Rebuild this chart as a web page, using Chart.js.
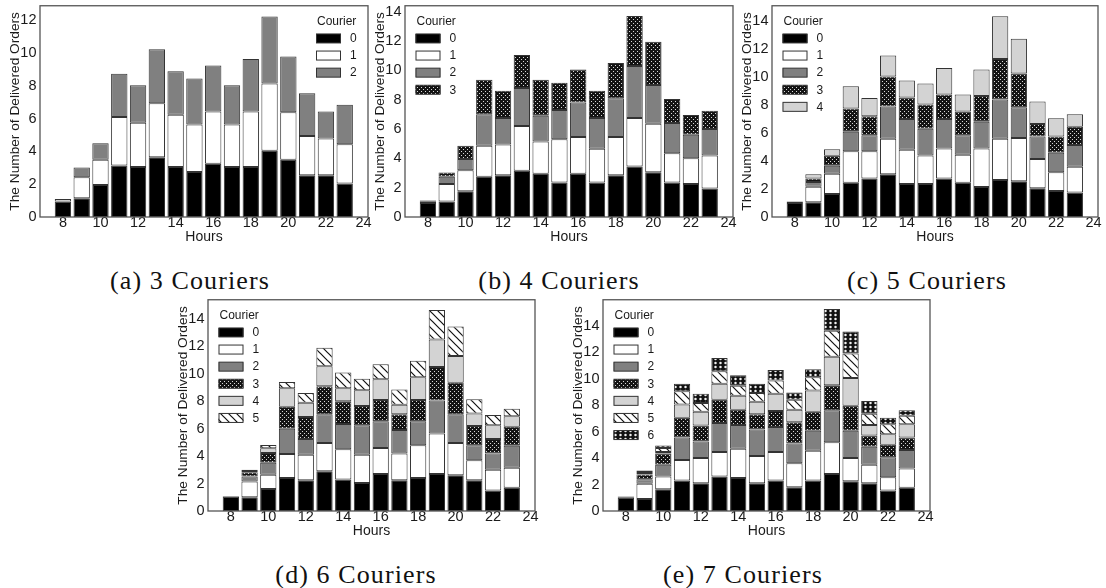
<!DOCTYPE html>
<html><head><meta charset="utf-8">
<script src="https://cdn.jsdelivr.net/npm/chart.js@4"></script>
<style>
html,body{margin:0;padding:0;background:#fff;}
#wrap{position:relative;width:1106px;height:588px;overflow:hidden;background:#fff;}
#wrap canvas{position:absolute;}
.cap{position:absolute;font-family:'Liberation Serif',serif;font-size:26px;letter-spacing:1.1px;line-height:26px;white-space:nowrap;transform:translateX(-50%);color:#111;}
</style></head><body><div id="wrap"></div>
<script>
// ---------- data ----------
const hours = [8,9,10,11,12,13,14,15,16,17,18,19,20,21,22,23];
const xTickValues = [8,10,12,14,16,18,20,22,24];
const yTicksA = [0,2,4,6,8,10,12];
const yTicksB = [0,2,4,6,8,10,12,14];
const courierLabels = ['0','1','2','3','4','5','6'];
const captions = ['(a) 3 Couriers','(b) 4 Couriers','(c) 5 Couriers','(d) 6 Couriers','(e) 7 Couriers'];
const yTitle = 'The Number of Delivered Orders';
const xTitle = 'Hours';
const legendTitle = 'Courier';

// (a) 3 couriers
const A0 = [0.95,1.15,1.95,3.15,3.05,3.65,3.05,2.75,3.25,3.05,3.05,4.05,3.5,2.55,2.55,2.05];
const A1 = [0.15,1.28,1.55,2.95,2.7,3.3,3.2,2.9,3.2,2.6,3.4,4.1,2.9,2.4,2.25,2.4];
const A2 = [0.0,0.6,1.0,2.65,2.3,3.3,2.65,2.8,2.8,2.4,3.2,4.1,3.4,2.6,1.65,2.4];
// (b) 4 couriers
const B0 = [0.95,1.05,1.75,2.75,2.85,3.15,2.95,2.35,2.95,2.35,2.85,3.45,3.05,2.35,2.25,1.95];
const B1 = [0.12,1.2,1.43,2.1,2.1,3.05,2.2,2.95,2.5,2.3,2.6,3.3,3.3,2.0,1.75,2.25];
const B2 = [0.03,0.5,0.77,2.15,1.8,2.6,1.75,2.0,2.35,2.1,2.65,3.55,2.65,2.05,1.6,1.8];
const B3 = [0.05,0.28,0.9,2.35,1.85,2.25,2.45,1.85,2.25,1.85,2.4,3.4,2.95,1.65,1.35,1.25];
// (c) 5 couriers
const C0 = [1.0,1.05,1.65,2.45,2.75,3.05,2.35,2.35,2.75,2.45,2.15,2.65,2.55,2.05,1.85,1.75];
const C1 = [0.1,1.12,1.45,2.25,1.95,2.55,2.45,2.05,2.15,2.0,2.75,2.95,3.1,2.1,1.35,1.85];
const C2 = [0.0,0.33,0.57,1.4,1.15,2.3,2.2,1.9,2.1,1.4,1.9,2.8,2.2,1.6,1.4,1.55];
const C3 = [0.0,0.25,0.7,1.65,1.35,2.15,1.55,1.75,1.75,1.7,1.85,2.9,2.4,0.9,1.15,1.3];
const C4 = [0.0,0.3,0.47,1.6,1.3,1.5,1.2,1.5,1.9,1.2,1.9,3.05,2.5,1.6,1.3,0.9];
// (d) 6 couriers
const D0 = [1.05,1.0,1.6,2.4,2.25,2.9,2.3,2.05,2.7,2.25,2.4,2.7,2.6,2.25,1.5,1.7];
const D1 = [0.05,1.15,1.05,1.75,1.85,2.05,2.2,2.05,1.9,1.95,2.4,2.95,2.35,1.45,1.5,1.45];
const D2 = [0.0,0.37,0.87,1.85,1.15,2.1,1.85,2.15,1.95,1.7,1.75,2.4,2.1,1.1,1.2,1.6];
const D3 = [0.0,0.3,0.7,1.6,1.6,2.05,1.65,1.4,1.55,1.15,1.55,2.45,2.3,1.4,1.05,1.4];
const D4 = [0.0,0.1,0.35,1.35,1.05,1.45,0.95,1.15,1.5,0.7,1.65,2.0,1.95,0.9,1.0,0.75];
const D5 = [0.0,0.08,0.25,0.45,0.7,1.35,1.15,0.85,1.1,1.1,1.2,2.15,2.15,1.05,0.75,0.55];
// (e) 7 couriers
const E0 = [1.0,0.9,1.65,2.3,2.1,2.6,2.5,2.1,2.3,1.8,2.3,2.8,2.25,2.1,1.55,1.75];
const E1 = [0.0,1.15,0.95,1.55,1.9,1.85,2.2,2.05,2.15,1.8,2.25,2.4,1.75,1.4,1.0,1.45];
const E2 = [0.0,0.35,0.9,1.7,1.25,2.2,1.8,2.0,1.9,1.5,1.5,2.4,2.05,1.35,1.5,1.4];
const E3 = [0.1,0.35,0.85,1.5,1.2,1.75,1.15,1.15,1.2,1.6,1.45,1.9,1.9,0.85,0.95,0.95];
const E4 = [0.0,0.12,0.1,1.0,1.05,1.2,1.05,0.95,1.3,0.95,1.6,2.15,2.1,0.8,0.8,1.0];
const E5 = [0.0,0.07,0.3,1.0,0.65,0.95,0.75,0.65,1.0,0.75,1.0,1.95,1.85,0.85,0.75,0.65];
const E6 = [0.0,0.12,0.2,0.55,0.7,1.0,0.8,0.7,0.8,0.55,0.6,1.65,1.65,0.95,0.5,0.4];

// ---------- styling ----------
const FONT = "'Liberation Sans', Arial, sans-serif";
const TXT = '#1a1a1a';
function makePattern(kind){
  const c = document.createElement('canvas');
  const g = c.getContext('2d');
  if (kind === 'dots') {
    c.width = 4; c.height = 4;
    g.fillStyle = '#141414'; g.fillRect(0,0,4,4);
    g.fillStyle = '#d8d8d8'; g.fillRect(0,0,1,1); g.fillRect(2,2,1,1);
  } else if (kind === 'hatch') {
    c.width = 8; c.height = 8;
    g.fillStyle = '#fff'; g.fillRect(0,0,8,8);
    g.strokeStyle = '#111'; g.lineWidth = 1.2;
    g.beginPath();
    g.moveTo(-2,-2); g.lineTo(10,10);
    g.moveTo(-2,6); g.lineTo(2,10);
    g.moveTo(6,-2); g.lineTo(10,2);
    g.stroke();
  } else {
    c.width = 5; c.height = 4;
    g.fillStyle = '#111'; g.fillRect(0,0,5,4);
    g.fillStyle = '#f2f2f2'; g.beginPath(); g.arc(2.5,2,1.25,0,Math.PI*2); g.fill();
  }
  return g.createPattern(c,'repeat');
}
const fills = ['#000000','#ffffff','#808080',makePattern('dots'),'#d3d3d3',makePattern('hatch'),makePattern('circles')];

const panels = [
  {series:[A0,A1,A2], yTicks:yTicksA, ymax:12.9, plotLeft:40, plotTop:5, plotW:328, plotH:212, legendRight:true, capX:190, capBase:290},
  {series:[B0,B1,B2,B3], yTicks:yTicksB, ymax:14.4, plotLeft:405, plotTop:5, plotW:328, plotH:212, legendRight:false, capX:559, capBase:290},
  {series:[C0,C1,C2,C3,C4], yTicks:yTicksB, ymax:15.1, plotLeft:772, plotTop:5, plotW:326, plotH:212, legendRight:false, capX:927, capBase:290},
  {series:[D0,D1,D2,D3,D4,D5], yTicks:yTicksB, ymax:15.4, plotLeft:208, plotTop:299, plotW:327, plotH:212, legendRight:false, capX:356, capBase:584},
  {series:[E0,E1,E2,E3,E4,E5,E6], yTicks:yTicksB, ymax:15.95, plotLeft:603, plotTop:299, plotW:327, plotH:212, legendRight:false, capX:743, capBase:584}
];

const framePlugin = {
  id:'frame',
  afterDatasetsDraw(chart){
    const {ctx, chartArea:a} = chart;
    ctx.save();
    ctx.strokeStyle = '#555'; ctx.lineWidth = 1.3;
    ctx.strokeRect(a.left, a.top, a.right-a.left, a.bottom-a.top);
    ctx.restore();
  }
};
function legendPlugin(p){
  return {
    id:'courierLegend',
    afterDraw(chart){
      const {ctx, chartArea:a} = chart;
      const bx = p.legendRight ? a.right - 52 : a.left + 10.5;
      ctx.save();
      ctx.font = '12px ' + FONT;
      ctx.fillStyle = TXT;
      ctx.textBaseline = 'middle';
      ctx.textAlign = 'left';
      ctx.fillText(legendTitle, bx + 1, a.top + 16);
      chart.data.datasets.forEach((ds, i) => {
        const cy = a.top + 32.7 + i * 17.1;
        ctx.fillStyle = ds.backgroundColor;
        ctx.fillRect(bx, cy - 4.5, 25, 9);
        ctx.strokeStyle = '#333'; ctx.lineWidth = 1;
        ctx.strokeRect(bx + 0.5, cy - 4.5, 24, 9);
        ctx.fillStyle = TXT;
        ctx.fillText(ds.label, bx + 34, cy + 0.5);
      });
      ctx.restore();
    }
  };
}

const wrap = document.getElementById('wrap');
const YW = 40, PT = 10, PR = 14, XH = 34;
panels.forEach((p, idx) => {
  const cv = document.createElement('canvas');
  const W = YW + p.plotW + PR, H = PT + p.plotH + XH;
  cv.width = W; cv.height = H;
  cv.style.left = (p.plotLeft - YW) + 'px';
  cv.style.top = (p.plotTop - PT) + 'px';
  cv.style.width = W + 'px'; cv.style.height = H + 'px';
  wrap.appendChild(cv);
  const datasets = p.series.map((arr, i) => ({
    label: courierLabels[i],
    data: hours.map((h, k) => ({x: h, y: arr[k]})),
    backgroundColor: fills[i],
    borderColor: '#333',
    borderWidth: 1,
    borderSkipped: false,
    categoryPercentage: 0.87,
    barPercentage: 1
  }));
  new Chart(cv, {
    type: 'bar',
    data: {datasets},
    options: {
      responsive: false,
      maintainAspectRatio: false,
      animation: false,
      events: [],
      layout: {padding: {left: 0, top: PT, right: PR, bottom: 0}},
      plugins: {legend: {display: false}, tooltip: {enabled: false}},
      scales: {
        x: {
          type: 'linear', min: 6.78, max: 24.24, offset: false, stacked: true,
          grid: {display: false, drawTicks: false}, border: {display: false},
          afterBuildTicks: s => { s.ticks = xTickValues.map(v => ({value: v})); },
          afterFit: s => { s.height = XH; },
          ticks: {font: {family: FONT, size: 14.5, lineHeight: 1}, color: TXT, padding: -1, maxRotation: 0, autoSkip: false, callback: v => String(v)},
          title: {display: true, text: xTitle, font: {family: FONT, size: 14, lineHeight: 1}, color: TXT, padding: {top: 0, bottom: 7}}
        },
        y: {
          type: 'linear', min: 0, max: p.ymax, stacked: true,
          grid: {display: false, drawTicks: false}, border: {display: false},
          afterBuildTicks: s => { s.ticks = p.yTicks.map(v => ({value: v})); },
          afterFit: s => { s.width = YW; },
          ticks: {font: {family: FONT, size: 14.5, lineHeight: 1}, color: TXT, padding: 3.5, autoSkip: false, callback: v => String(v)},
          title: {display: true, text: yTitle, font: {family: FONT, size: 13.7, lineHeight: 1}, color: TXT, padding: {top: 8, bottom: 0}}
        }
      }
    },
    plugins: [framePlugin, legendPlugin(p)]
  });
  const cap = document.createElement('div');
  cap.className = 'cap';
  cap.textContent = captions[idx];
  cap.style.left = p.capX + 'px';
  cap.style.top = (p.capBase - 21.8) + 'px';
  wrap.appendChild(cap);
});
</script>
</body></html>
